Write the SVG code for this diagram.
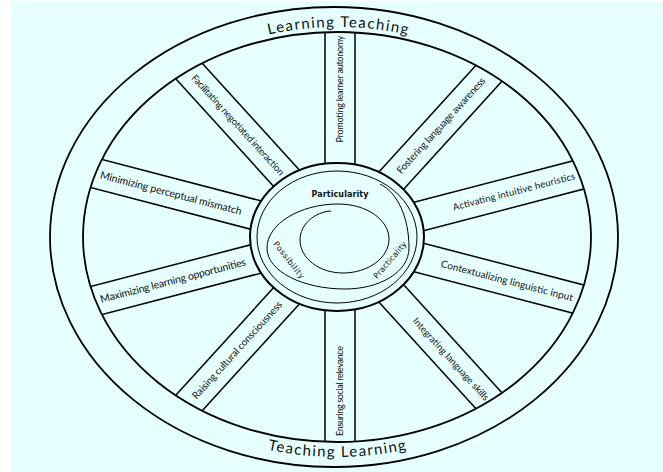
<svg xmlns="http://www.w3.org/2000/svg" width="663" height="472" viewBox="0 0 663 472">
<style>
.ln{stroke:#000;stroke-width:1.5;fill:none}
.rim{stroke:#000;stroke-width:1.8;fill:none}
.sp{stroke:#000;stroke-width:1;fill:none}
.lbl{font-family:Lato,"Open Sans","Liberation Sans",sans-serif;fill:#111;text-anchor:middle}
.big{font-family:Lato,"Open Sans","Liberation Sans",sans-serif;font-size:15px;fill:#111}
.hub{font-family:"DejaVu Sans","Liberation Sans",sans-serif;font-size:8px;fill:#111;text-anchor:middle}
</style>
<defs>
<clipPath id="rimClip"><ellipse cx="337" cy="237" rx="254" ry="205"/></clipPath>
<path id="topArc" d="M 77 237 A 261 210 0 0 1 599 237"/>
<path id="botArc" d="M 65 237 A 272 220 0 0 0 609 237"/>
</defs>
<rect x="0" y="0" width="663" height="472" fill="#ffffff"/>
<rect x="11" y="1" width="652" height="471" fill="#e6ffff"/>

<g id="wheel-rim">
<ellipse class="rim" cx="334" cy="237" rx="284" ry="230"/>
</g>

<g id="connectors" clip-path="url(#rimClip)" class="ln">
<g id="spoke-promoting" transform="rotate(-90 340 237)"><line x1="340" y1="222" x2="760" y2="222"/><line x1="340" y1="252" x2="760" y2="252"/></g>
<g id="spoke-fostering" transform="rotate(-47.7 340 237)"><line x1="340" y1="222" x2="760" y2="222"/><line x1="340" y1="252" x2="760" y2="252"/></g>
<g id="spoke-activating" transform="rotate(-14.6 340 237)"><line x1="340" y1="222" x2="760" y2="222"/><line x1="340" y1="252" x2="760" y2="252"/></g>
<g id="spoke-contextualizing" transform="rotate(14.6 340 237)"><line x1="340" y1="222" x2="760" y2="222"/><line x1="340" y1="252" x2="760" y2="252"/></g>
<g id="spoke-integrating" transform="rotate(47.7 340 237)"><line x1="340" y1="222" x2="760" y2="222"/><line x1="340" y1="252" x2="760" y2="252"/></g>
<g id="spoke-ensuring" transform="rotate(90 340 237)"><line x1="340" y1="222" x2="760" y2="222"/><line x1="340" y1="252" x2="760" y2="252"/></g>
<g id="spoke-raising" transform="rotate(132.3 340 237)"><line x1="340" y1="222" x2="760" y2="222"/><line x1="340" y1="252" x2="760" y2="252"/></g>
<g id="spoke-maximizing" transform="rotate(165.4 340 237)"><line x1="340" y1="222" x2="760" y2="222"/><line x1="340" y1="252" x2="760" y2="252"/></g>
<g id="spoke-minimizing" transform="rotate(194.6 340 237)"><line x1="340" y1="222" x2="760" y2="222"/><line x1="340" y1="252" x2="760" y2="252"/></g>
<g id="spoke-facilitating" transform="rotate(227.7 340 237)"><line x1="340" y1="222" x2="760" y2="222"/><line x1="340" y1="252" x2="760" y2="252"/></g>
</g>

<g id="spoke-labels">
<text id="t-promoting" class="lbl" font-size="9" textLength="107" transform="translate(340 89) rotate(-90)" dy="0.35em">Promoting learner autonomy</text>
<text id="t-fostering" class="lbl" font-size="10" textLength="126" transform="translate(441 125.5) rotate(-47.7)" dy="0.35em">Fostering language awareness</text>
<text id="t-activating" class="lbl" font-size="9.5" textLength="126" transform="translate(514 191.6) rotate(-14.6)" dy="0.35em">Activating intuitive heuristics</text>
<text id="t-contextualizing" class="lbl" font-size="10" textLength="136" transform="translate(507 280.6) rotate(14.6)" dy="0.35em">Contextualizing linguistic input</text>
<text id="t-integrating" class="lbl" font-size="9.5" textLength="108" transform="translate(451 359) rotate(47.7)" dy="0.35em">Integrating language skills</text>
<text id="t-ensuring" class="lbl" font-size="9" textLength="90" transform="translate(340 391) rotate(-90)" dy="0.35em">Ensuring social relevance</text>
<text id="t-raising" class="lbl" font-size="10" textLength="128" transform="translate(237 350) rotate(-47.7)" dy="0.35em">Raising cultural consciousness</text>
<text id="t-maximizing" class="lbl" font-size="10.5" textLength="150" transform="translate(173 280.5) rotate(-14.6)" dy="0.35em">Maximizing learning opportunities</text>
<text id="t-minimizing" class="lbl" font-size="10.5" textLength="146" transform="translate(171 193) rotate(14.6)" dy="0.35em">Minimizing perceptual mismatch</text>
<text id="t-facilitating" class="lbl" font-size="9.5" textLength="132" transform="translate(238 125) rotate(47.7)" dy="0.35em">Facilitating negotiated interaction</text>
</g>

<g id="rim-inner">
<ellipse class="rim" cx="337" cy="237" rx="254" ry="205"/>
</g>

<g id="rim-labels">
<text class="big"><textPath href="#topArc" startOffset="50%" text-anchor="middle" textLength="140">Learning Teaching</textPath></text>
<text class="big"><textPath href="#botArc" startOffset="50%" text-anchor="middle" textLength="140">Teaching Learning</textPath></text>
</g>

<g id="hub">
<ellipse cx="337" cy="237" rx="87" ry="74" fill="#e6ffff" stroke="#000" stroke-width="2"/>
<ellipse class="sp" cx="337" cy="237" rx="80" ry="66"/>
<path class="sp" d="M 380 184 C 398 193 409 218 409 248 C 409 272 380 289 345 289 C 304 289 267 272 267 248 C 267 224 300 204 338 204 C 367 204 389 220 389 239 C 389 258 368 273 343 273 C 319 273 300 258 300 240 C 300 224 315 212 331 211"/>
<text class="hub" font-weight="bold" x="340" y="197" textLength="57">Particularity</text>
<text class="hub" textLength="45" transform="translate(289 260) rotate(52)" dy="0.35em">Possibility</text>
<text class="hub" textLength="46" transform="translate(390 260) rotate(-49)" dy="0.35em">Practicality</text>
</g>
</svg>
